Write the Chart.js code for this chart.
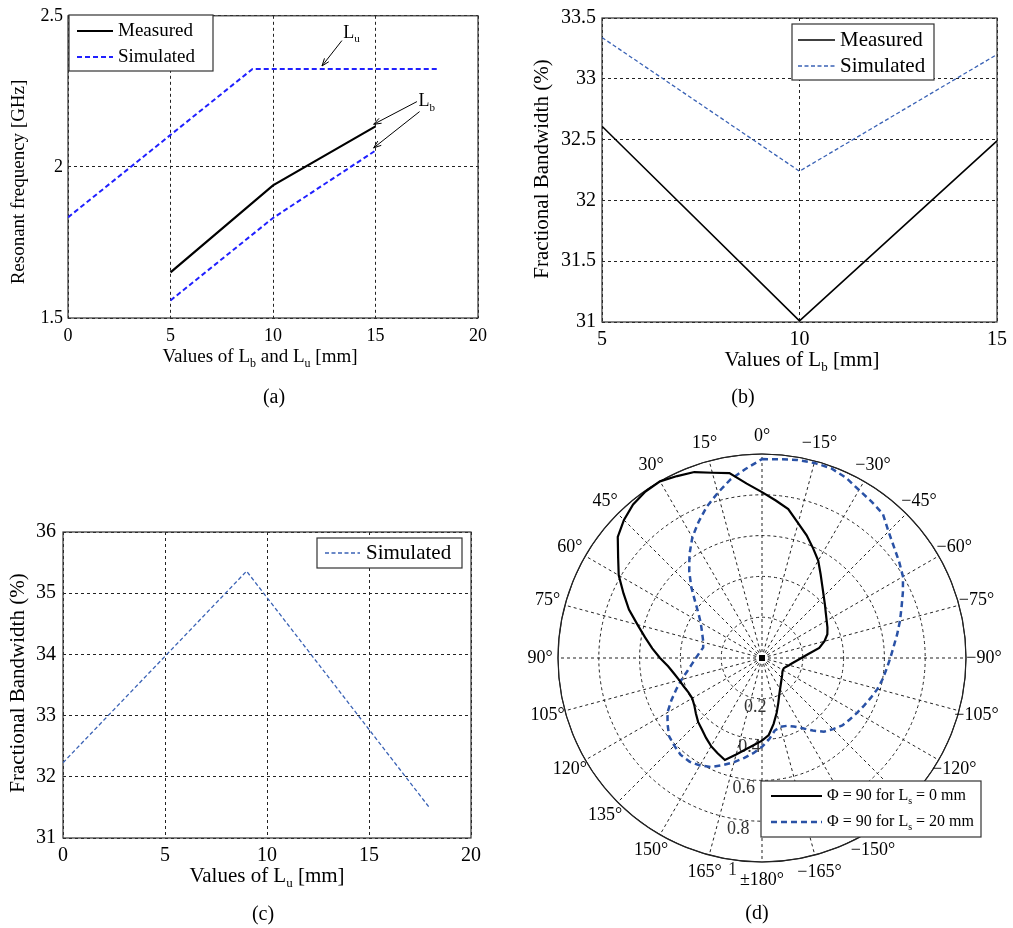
<!DOCTYPE html>
<html>
<head>
<meta charset="utf-8">
<title>Resonant frequency, bandwidth and pattern</title>
<script src="https://cdn.jsdelivr.net/npm/chart.js@4.4.1/dist/chart.umd.min.js"></script>
<style>
  html, body { margin: 0; padding: 0; background: #fff; }
  #page { position: relative; width: 1013px; height: 928px; overflow: hidden; background: #fff; }
  canvas { position: absolute; }
</style>
</head>
<body>
<div id="page">
  <canvas id="chartA" width="506" height="420" style="left:0px;top:0px"></canvas>
  <canvas id="chartB" width="507" height="420" style="left:506px;top:0px"></canvas>
  <canvas id="chartC" width="506" height="508" style="left:0px;top:420px"></canvas>
  <canvas id="chartD" width="507" height="508" style="left:506px;top:420px"></canvas>
</div>
<script>
// (a) resonant frequency vs Lb / Lu
const aXTicks = [0, 5, 10, 15, 20];
const aYTicks = [1.5, 2, 2.5];
const aLuX = [0, 9, 18];
const aLuSim = [1.833, 2.324, 2.324];
const aLbX = [5, 10, 15];
const aLbMeas = [1.651, 1.939, 2.134];
const aLbSim = [1.558, 1.831, 2.054];
// arrow notes of (a), in data units: text anchor and arrow start -> tip
const aNotes = [
    { sub: 'u', x: 13.43, y: 2.443, arrows: [[13.36, 2.418, 12.39, 2.334]] },
    { sub: 'b', x: 17.1, y: 2.217, arrows: [[17.02, 2.216, 14.91, 2.141], [17.15, 2.183, 14.91, 2.063]] }
];

// (b) fractional bandwidth vs Lb
const bXTicks = [5, 10, 15];
const bYTicks = [31, 31.5, 32, 32.5, 33, 33.5];
const bLbX = [5, 10, 15];
const bMeas = [32.61, 31.01, 32.49];
const bSim = [33.34, 32.24, 33.2];

// (c) fractional bandwidth vs Lu
const cXTicks = [0, 5, 10, 15, 20];
const cYTicks = [31, 32, 33, 34, 35, 36];
const cLuX = [0, 9, 18];
const cSim = [32.23, 35.36, 31.48];

// (d) radiation pattern, one value every 5 deg going clockwise from 0 deg
const dAngleLabels = ['0°', '−15°', '−30°', '−45°', '−60°', '−75°', '−90°', '−105°', '−120°', '−135°', '−150°', '−165°',
    '±180°', '165°', '150°', '135°', '120°', '105°', '90°', '75°', '60°', '45°', '30°', '15°'];
const dRingTicks = [0.2, 0.4, 0.6, 0.8, 1];
const dRingLabels = ['0.2', '0.4', '0.6', '0.8', '1'];
const dLs0 = [
    0.813, 0.775, 0.741, 0.684, 0.640, 0.593, 0.551, 0.501, 0.460, 0.428,
    0.403, 0.382, 0.366, 0.354, 0.341, 0.317, 0.285, 0.228, 0.193, 0.168,
    0.150, 0.137, 0.126, 0.118, 0.118, 0.122, 0.129, 0.137, 0.147, 0.160,
    0.177, 0.200, 0.234, 0.278, 0.328, 0.379, 0.405, 0.427, 0.454, 0.490,
    0.532, 0.515, 0.499, 0.478, 0.458, 0.443, 0.423, 0.405, 0.395, 0.398,
    0.408, 0.420, 0.438, 0.462, 0.500, 0.540, 0.582, 0.632, 0.694, 0.749,
    0.811, 0.861, 0.923, 0.957, 0.983, 0.996, 1.000, 0.984, 0.970, 0.940,
    0.920, 0.858
];
const dLs20 = [
    0.975, 0.978, 0.986, 0.990, 0.990, 0.975, 0.951, 0.936, 0.922, 0.877,
    0.845, 0.821, 0.798, 0.762, 0.728, 0.700, 0.673, 0.648, 0.629, 0.613,
    0.600, 0.586, 0.568, 0.552, 0.538, 0.525, 0.514, 0.493, 0.472, 0.434,
    0.398, 0.371, 0.354, 0.349, 0.361, 0.400, 0.435, 0.467, 0.497, 0.528,
    0.559, 0.590, 0.608, 0.620, 0.620, 0.608, 0.595, 0.565, 0.535, 0.490,
    0.447, 0.408, 0.372, 0.345, 0.324, 0.307, 0.293, 0.298, 0.310, 0.326,
    0.347, 0.380, 0.427, 0.490, 0.555, 0.620, 0.683, 0.736, 0.790, 0.838,
    0.889, 0.930
];

const FONT = '"Liberation Serif", "Times New Roman", Times, serif';
const BLUE_A = '#2020ff';
const BLUE = '#3a62b5';
const BLUE_D = '#2a52a6';
const GRID = '#222';

Chart.defaults.font.family = FONT;
Chart.defaults.color = '#000';

function setFont(ctx, size) {
    ctx.font = `${size}px ${FONT}`;
}

// text with subscripts: parts = [['Values of L'], ['b', true], [' [mm]']]
function richText(ctx, parts, x, y, size, align) {
    const subSize = Math.round(size * 0.62);
    let width = 0;
    parts.forEach(([t, sub]) => { setFont(ctx, sub ? subSize : size); width += ctx.measureText(t).width; });
    let cx = align === 'center' ? x - width / 2 : x;
    ctx.textAlign = 'left';
    ctx.textBaseline = 'middle';
    parts.forEach(([t, sub]) => {
        setFont(ctx, sub ? subSize : size);
        ctx.fillText(t, cx, sub ? y + size * 0.36 : y);
        cx += ctx.measureText(t).width;
    });
}

function verticalText(ctx, text, x, y, size) {
    ctx.save();
    ctx.translate(x, y);
    ctx.rotate(-Math.PI / 2);
    setFont(ctx, size);
    ctx.textAlign = 'center';
    ctx.textBaseline = 'middle';
    ctx.fillText(text, 0, 0);
    ctx.restore();
}

function legendBox(ctx, box, rows, size) {
    ctx.save();
    ctx.fillStyle = '#fff';
    ctx.fillRect(box.x, box.y, box.w, box.h);
    ctx.strokeStyle = '#333';
    ctx.lineWidth = 1.2;
    ctx.setLineDash([]);
    ctx.strokeRect(box.x, box.y, box.w, box.h);
    rows.forEach(row => {
        ctx.beginPath();
        ctx.strokeStyle = row.color;
        ctx.lineWidth = row.width;
        ctx.setLineDash(row.dash || []);
        ctx.moveTo(box.lineX0, row.y);
        ctx.lineTo(box.lineX1, row.y);
        ctx.stroke();
        ctx.setLineDash([]);
        ctx.fillStyle = '#000';
        richText(ctx, row.parts, box.textX, row.y, size, 'left');
    });
    ctx.restore();
}

function arrow(ctx, x0, y0, x1, y1) {
    const ang = Math.atan2(y1 - y0, x1 - x0);
    ctx.beginPath();
    ctx.moveTo(x0, y0);
    ctx.lineTo(x1, y1);
    ctx.moveTo(x1 - 8 * Math.cos(ang - 0.35), y1 - 8 * Math.sin(ang - 0.35));
    ctx.lineTo(x1, y1);
    ctx.lineTo(x1 - 8 * Math.cos(ang + 0.35), y1 - 8 * Math.sin(ang + 0.35));
    ctx.stroke();
}

// solid box around the plot area, like the matlab axes
const framePlugin = {
    id: 'frame',
    beforeDatasetsDraw(chart) {
        const { ctx, chartArea: a } = chart;
        ctx.save();
        ctx.strokeStyle = '#333';
        ctx.lineWidth = 1.2;
        ctx.setLineDash([]);
        ctx.strokeRect(a.left, a.top, a.right - a.left, a.bottom - a.top);
        ctx.restore();
    }
};

const pts = (xs, ys) => xs.map((x, i) => ({ x, y: ys[i] }));

function cartesianOptions(cfg) {
    return {
        responsive: false,
        animation: false,
        events: [],
        layout: { padding: cfg.padding },
        plugins: { legend: { display: false }, tooltip: { enabled: false } },
        scales: {
            x: {
                type: 'linear',
                min: cfg.xTicks[0],
                max: cfg.xTicks[cfg.xTicks.length - 1],
                afterBuildTicks: s => { s.ticks = cfg.xTicks.map(v => ({ value: v })); },
                afterFit: s => { s.height = cfg.xAxisHeight; },
                ticks: { callback: v => String(v), font: { size: cfg.tickSize }, padding: cfg.xPad, maxRotation: 0, autoSkip: false, color: '#000' },
                grid: { color: GRID, lineWidth: 1, drawTicks: false },
                border: { display: false, dash: [3, 3] }
            },
            y: {
                type: 'linear',
                min: cfg.yTicks[0],
                max: cfg.yTicks[cfg.yTicks.length - 1],
                afterBuildTicks: s => { s.ticks = cfg.yTicks.map(v => ({ value: v })); },
                afterFit: s => { s.width = cfg.yAxisWidth; },
                ticks: { callback: v => String(v), font: { size: cfg.tickSize }, padding: cfg.yPad, autoSkip: false, color: '#000' },
                grid: { color: GRID, lineWidth: 1, drawTicks: false },
                border: { display: false, dash: [3, 3] }
            }
        }
    };
}

function lineSet(label, data, color, width, dash) {
    return { label, data, showLine: true, borderColor: color, borderWidth: width, borderDash: dash || [], pointRadius: 0, fill: false };
}

// ---------- (a) ----------
const decorA = {
    id: 'decorA',
    afterDraw(chart) {
        const ctx = chart.ctx, xs = chart.scales.x, ys = chart.scales.y;
        ctx.save();
        ctx.fillStyle = '#000';
        verticalText(ctx, 'Resonant frequency [GHz]', 19, 182, 19);
        richText(ctx, [['Values of L'], ['b', true], [' and L'], ['u', true], [' [mm]']], 260, 357, 19, 'center');
        setFont(ctx, 20);
        ctx.textAlign = 'center';
        ctx.textBaseline = 'middle';
        ctx.fillText('(a)', 274, 398);
        // arrows pointing at the curves
        ctx.strokeStyle = '#000';
        ctx.lineWidth = 1;
        aNotes.forEach(n => {
            richText(ctx, [['L'], [n.sub, true]], xs.getPixelForValue(n.x), ys.getPixelForValue(n.y), 18, 'left');
            n.arrows.forEach(a => arrow(ctx, xs.getPixelForValue(a[0]), ys.getPixelForValue(a[1]),
                xs.getPixelForValue(a[2]), ys.getPixelForValue(a[3])));
        });
        legendBox(ctx, { x: 69, y: 15, w: 144, h: 56, lineX0: 77, lineX1: 113, textX: 118 }, [
            { parts: [['Measured']], y: 31, color: '#000', width: 2 },
            { parts: [['Simulated']], y: 57, color: BLUE_A, width: 2, dash: [5, 3] }
        ], 19);
        ctx.restore();
    }
};

new Chart(document.getElementById('chartA'), {
    type: 'scatter',
    data: {
        datasets: [
            lineSet('Measured', pts(aLbX, aLbMeas), '#000', 2.2),
            lineSet('Simulated', pts(aLbX, aLbSim), BLUE_A, 2, [5, 3]),
            lineSet('Simulated Lu', pts(aLuX, aLuSim), BLUE_A, 2, [5, 3])
        ]
    },
    options: cartesianOptions({
        xTicks: aXTicks, yTicks: aYTicks, padding: { left: 0, right: 28, top: 13, bottom: 0 },
        xAxisHeight: 102, yAxisWidth: 68, tickSize: 18, xPad: 7, yPad: 5
    }),
    plugins: [framePlugin, decorA]
});

// ---------- (b) ----------
const decorB = {
    id: 'decorB',
    afterDraw(chart) {
        const ctx = chart.ctx;
        ctx.save();
        ctx.fillStyle = '#000';
        verticalText(ctx, 'Fractional Bandwidth (%)', 36, 169, 21);
        richText(ctx, [['Values of L'], ['b', true], [' [mm]']], 296, 360, 21, 'center');
        setFont(ctx, 20);
        ctx.textAlign = 'center';
        ctx.textBaseline = 'middle';
        ctx.fillText('(b)', 237, 398);
        legendBox(ctx, { x: 286, y: 24, w: 142, h: 56, lineX0: 292, lineX1: 329, textX: 334 }, [
            { parts: [['Measured']], y: 40, color: '#000', width: 1.6 },
            { parts: [['Simulated']], y: 66, color: BLUE, width: 1.4, dash: [4, 2.5] }
        ], 21);
        ctx.restore();
    }
};

new Chart(document.getElementById('chartB'), {
    type: 'scatter',
    data: {
        datasets: [
            lineSet('Measured', pts(bLbX, bMeas), '#000', 1.6),
            lineSet('Simulated', pts(bLbX, bSim), BLUE, 1.3, [4, 2.5])
        ]
    },
    options: cartesianOptions({
        xTicks: bXTicks, yTicks: bYTicks, padding: { left: 0, right: 12, top: 18, bottom: 0 },
        xAxisHeight: 98, yAxisWidth: 96, tickSize: 20, xPad: 6, yPad: 6
    }),
    plugins: [framePlugin, decorB]
});

// ---------- (c) ----------
const decorC = {
    id: 'decorC',
    afterDraw(chart) {
        const ctx = chart.ctx;
        ctx.save();
        ctx.fillStyle = '#000';
        verticalText(ctx, 'Fractional Bandwidth (%)', 18, 263, 21);
        richText(ctx, [['Values of L'], ['u', true], [' [mm]']], 267, 456, 21, 'center');
        setFont(ctx, 20);
        ctx.textAlign = 'center';
        ctx.textBaseline = 'middle';
        ctx.fillText('(c)', 263, 495);
        legendBox(ctx, { x: 317, y: 118, w: 145, h: 30, lineX0: 325, lineX1: 360, textX: 366 }, [
            { parts: [['Simulated']], y: 133, color: BLUE, width: 1.4, dash: [4, 2.5] }
        ], 21);
        ctx.restore();
    }
};

new Chart(document.getElementById('chartC'), {
    type: 'scatter',
    data: { datasets: [lineSet('Simulated', pts(cLuX, cSim), BLUE, 1.3, [4, 2.5])] },
    options: cartesianOptions({
        xTicks: cXTicks, yTicks: cYTicks, padding: { left: 0, right: 35, top: 112, bottom: 0 },
        xAxisHeight: 90, yAxisWidth: 63, tickSize: 20, xPad: 6, yPad: 7
    }),
    plugins: [framePlugin, decorC]
});

// ---------- (d) polar pattern ----------
const dLabels = [];
for (let i = 0; i < dLs0.length; i++) dLabels.push(i % 3 === 0 ? dAngleLabels[i / 3] : '');

const decorD = {
    id: 'decorD',
    beforeDatasetsDraw(chart) {
        const ctx = chart.ctx, r = chart.scales.r;
        ctx.save();
        ctx.strokeStyle = '#222';
        ctx.lineWidth = 1.2;
        ctx.setLineDash([]);
        ctx.beginPath();
        ctx.arc(r.xCenter, r.yCenter, r.getDistanceFromCenterForValue(1), 0, Math.PI * 2);
        ctx.stroke();
        ctx.fillStyle = '#000';
        ctx.fillRect(r.xCenter - 3, r.yCenter - 3, 6, 6);
        setFont(ctx, 18);
        ctx.textAlign = 'center';
        ctx.textBaseline = 'middle';
        dAngleLabels.forEach((lab, k) => {
            const p = r.getPointPosition(k * 3, r.drawingArea + 18);
            ctx.fillText(lab, p.x, p.y);
        });
        ctx.fillStyle = '#333';
        dRingTicks.forEach((v, k) => {
            const d = r.getDistanceFromCenterForValue(v);
            ctx.fillText(dRingLabels[k], r.xCenter - 0.14 * d - 1, r.yCenter + d + 8);
        });
        ctx.restore();
    },
    afterDraw(chart) {
        const ctx = chart.ctx;
        ctx.save();
        ctx.fillStyle = '#000';
        setFont(ctx, 20);
        ctx.textAlign = 'center';
        ctx.textBaseline = 'middle';
        ctx.fillText('(d)', 251, 494);
        legendBox(ctx, { x: 255, y: 361, w: 220, h: 56, lineX0: 265, lineX1: 316, textX: 321 }, [
            { parts: [['Φ = 90 for L'], ['s', true], [' = 0 mm']], y: 376, color: '#000', width: 2.2 },
            { parts: [['Φ = 90 for L'], ['s', true], [' = 20 mm']], y: 402, color: BLUE_D, width: 2.5, dash: [6, 4] }
        ], 16);
        ctx.restore();
    }
};

new Chart(document.getElementById('chartD'), {
    type: 'radar',
    data: {
        labels: dLabels,
        datasets: [
            { label: 'Φ = 90 for Ls = 0 mm', data: dLs0, borderColor: '#000', borderWidth: 2.2, pointRadius: 0, fill: false },
            { label: 'Φ = 90 for Ls = 20 mm', data: dLs20, borderColor: BLUE_D, borderWidth: 2.5, borderDash: [6, 4], pointRadius: 0, fill: false }
        ]
    },
    options: {
        responsive: false,
        animation: false,
        events: [],
        layout: { padding: { left: 52, right: 47, top: 34, bottom: 66 } },
        plugins: { legend: { display: false }, tooltip: { enabled: false } },
        scales: {
            r: {
                min: 0,
                max: 1,
                ticks: { display: false, stepSize: 0.2 },
                pointLabels: { display: false },
                grid: { circular: true, color: GRID, lineWidth: 1 },
                border: { dash: ctx => (ctx.index === 5 ? [] : [3, 3]) },
                angleLines: { color: GRID, lineWidth: ctx => (ctx.index % 3 === 0 ? 1 : 0), borderDash: [3, 3] }
            }
        }
    },
    plugins: [decorD]
});
</script>
</body>
</html>
